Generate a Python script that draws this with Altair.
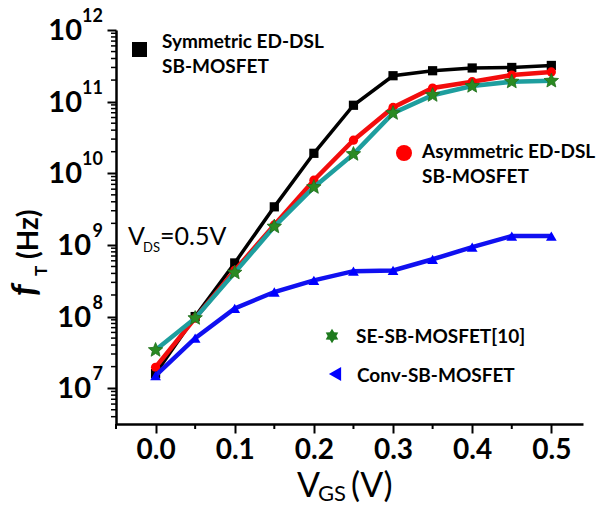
import altair as alt
import pandas as pd
import numpy as np

# ---- data ----
vgs = [0.0, 0.05, 0.10, 0.15, 0.20, 0.25, 0.30, 0.35, 0.40, 0.45, 0.50]
sym_ft = [1.6e7, 1.0e8, 5.6e8, 3.4e9, 1.9e10, 8.9e10, 2.3e11, 2.7e11, 2.95e11, 3.0e11, 3.2e11]
asym_ft = [1.96e7, 9.5e7, 4.4e8, 1.9e9, 8.0e9, 2.9e10, 8.3e10, 1.55e11, 1.9e11, 2.35e11, 2.6e11]
se_ft = [3.4e7, 9.5e7, 4.1e8, 1.8e9, 6.4e9, 1.85e10, 6.9e10, 1.23e11, 1.65e11, 1.9e11, 1.95e11]
conv_ft = [1.5e7, 5.0e7, 1.3e8, 2.2e8, 3.2e8, 4.3e8, 4.4e8, 6.3e8, 9.3e8, 1.33e9, 1.33e9]

x_major = [0.0, 0.1, 0.2, 0.3, 0.4, 0.5]
x_minor = [-0.05, 0.05, 0.15, 0.25, 0.35, 0.45]
y_exps = [7, 8, 9, 10, 11, 12]

legend_sym = ["Symmetric ED-DSL", "SB-MOSFET"]
legend_asym = ["Asymmetric ED-DSL", "SB-MOSFET"]
legend_se = ["SE-SB-MOSFET[10]"]
legend_conv = ["Conv-SB-MOSFET"]

FONT = "Lato"
W, H = 467, 394

y_lo = 10 ** 6.5
y_minor = [k * 10 ** d for d in range(6, 12) for k in range(2, 10) if y_lo <= k * 10 ** d < 1e12]


def star_path(n, r_in):
    pts = []
    for i in range(2 * n):
        a = -np.pi / 2 + i * np.pi / n
        r = 1.0 if i % 2 == 0 else r_in
        pts.append(f"{r*np.cos(a):.3f},{r*np.sin(a):.3f}")
    return "M" + "L".join(pts) + "Z"


STAR5 = star_path(5, 0.45)
STAR6 = star_path(6, 0.6)

xscale = alt.Scale(domain=[-0.05, 0.54], nice=False, zero=False)
yscale = alt.Scale(type="log", domain=[y_lo, 1e12], nice=False)

xaxis = alt.Axis(values=x_major, format=".1f", labelFont=FONT, labelFontSize=28,
                 labelFontWeight="bold", labelColor="black", labelPadding=3,
                 tickSize=9, tickWidth=2, tickColor="black", domainColor="black",
                 domainWidth=2.5, grid=False, title=None, labelFlush=False)
yaxis = alt.Axis(values=[10.0 ** e for e in y_exps], labels=False, tickSize=9,
                 tickWidth=2, tickColor="black", domainColor="black", domainWidth=2.5,
                 grid=False, title=None)

X = alt.X("vgs:Q", scale=xscale, axis=xaxis)
Y = alt.Y("ft:Q", scale=yscale, axis=yaxis)


def series(vals, line_color, lw, shape, size, mcolor, stroke=None):
    df = pd.DataFrame({"vgs": vgs, "ft": vals})
    base = alt.Chart(df)
    line = base.mark_line(color=line_color, strokeWidth=lw).encode(x=X, y=Y)
    kw = dict(shape=shape, size=size, filled=True, color=mcolor, opacity=1)
    if stroke:
        kw.update(stroke=stroke, strokeWidth=0.8)
    pts = base.mark_point(**kw).encode(x=X, y=Y)
    return line, pts


l1, p1 = series(sym_ft, "black", 3.5, "square", 85, "black")
l2, p2 = series(asym_ft, "#f20d0d", 4.5, "circle", 85, "#ff0000")
l3, p3 = series(se_ft, "#1e9e9e", 4.5, STAR5, 230, "#2a8a22", stroke="#1f6e1a")
l4, p4 = series(conv_ft, "#1010f0", 4.5, "triangle-up", 115, "#0000ff")

# minor ticks
ymin_df = pd.DataFrame({"ft": y_minor})
ymin = alt.Chart(ymin_df).mark_rule(color="black", strokeWidth=1.5).encode(
    y=Y, x=alt.value(0), x2=alt.value(-5))
xmin_df = pd.DataFrame({"vgs": x_minor})
xmin = alt.Chart(xmin_df).mark_rule(color="black", strokeWidth=2).encode(
    x=X, y=alt.value(H), y2=alt.value(H + 5))

# y tick labels: "10" + superscript exponent
ylab_df = pd.DataFrame({"exp": y_exps, "ft": [10.0 ** e for e in y_exps], "base": ["10"] * len(y_exps)})
ylab_df["exp_s"] = ylab_df["exp"].astype(str)
ybase_text = dict(font=FONT, fontSize=29, fontWeight="bold", align="right", baseline="middle", dy=1, color="black")
ybase2 = alt.Chart(ylab_df).transform_filter("datum.exp >= 10").mark_text(**ybase_text).encode(
    y=Y, x=alt.value(-34), text="base:N")
ybase1 = alt.Chart(ylab_df).transform_filter("datum.exp < 10").mark_text(**ybase_text).encode(
    y=Y, x=alt.value(-25), text="base:N")
yexp = alt.Chart(ylab_df).mark_text(font=FONT, fontSize=18, fontWeight="bold", align="right",
                                    baseline="middle", dy=-13, color="black").encode(
    y=Y, x=alt.value(-13), text="exp_s:N")

one = pd.DataFrame({"a": [0]})


def txt(s, x, y, size, weight="normal", style="normal", angle=0):
    kw = dict(font=FONT, fontSize=size, fontWeight=weight, fontStyle=style,
              align="left", baseline="alphabetic", color="black")
    if angle:
        kw["angle"] = angle
    return alt.Chart(pd.DataFrame({"t": [s]})).mark_text(**kw).encode(
        x=alt.value(x), y=alt.value(y), text="t:N")


def marker(shape, size, color, x, y):
    return alt.Chart(one).mark_point(shape=shape, size=size, filled=True, color=color, opacity=1).encode(
        x=alt.value(x), y=alt.value(y))


leg = [
    marker("square", 225, "black", 23.5, 19.5),
    txt(legend_sym[0], 46, 18, 19, "bold"), txt(legend_sym[1], 46, 43, 19, "bold"),
    marker("circle", 256, "#ff0000", 288, 123),
    txt(legend_asym[0], 306, 128, 19, "bold"), txt(legend_asym[1], 306, 153, 19, "bold"),
    marker(STAR6, 210, "#1e7a1e", 216, 306),
    txt(legend_se[0], 240, 313, 19, "bold"),
    marker("triangle-left", 200, "#0000ff", 219, 344),
    txt(legend_conv[0], 241, 352, 19, "bold"),
]

# annotation V_DS=0.5V
ann = [
    txt("V", 12, 215, 25),
    txt("DS", 27, 222, 13),
    txt("=0.5V", 44, 215, 25),
]

# axis titles
titles = [
    txt("V", 181, 467, 34),
    txt("GS", 202, 471, 22),
    txt("(V)", 235, 467, 34),
    txt("f", -80, 266, 35, "bold", "italic", angle=270),
    txt("T", -69, 246, 17, "bold", angle=270),
    txt("(Hz)", -78, 229, 28, "bold", angle=270),
]

chart = alt.layer(
    l1, p1, l2, p2, l3, p3, l4, p4,
    ymin, xmin, ybase2, ybase1, yexp,
    *leg, *ann, *titles
).properties(
    width=W, height=H,
    autosize=alt.AutoSizeParams(type="none"),
    padding={"left": 116, "top": 30, "right": 30, "bottom": 85},
    background="white",
).configure_view(stroke=None)

chart.save("out.html", embed_options={"renderer": "svg", "actions": False})
